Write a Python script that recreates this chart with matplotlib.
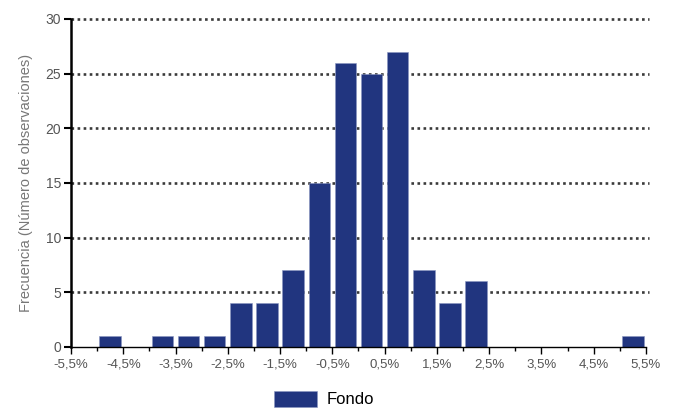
import matplotlib
matplotlib.use("Agg")
import matplotlib.pyplot as plt
import numpy as np
from matplotlib.ticker import FixedLocator

plt.rcParams['font.family'] = ['Liberation Sans', 'DejaVu Sans']

bin_edges = [-5.5, -5.0, -4.5, -4.0, -3.5, -3.0, -2.5, -2.0, -1.5, -1.0, -0.5, 0.0,
             0.5, 1.0, 1.5, 2.0, 2.5, 3.0, 3.5, 4.0, 4.5, 5.0, 5.5]
counts = [0, 1, 0, 1, 1, 1, 4, 4, 7, 15, 26, 25, 27, 7, 4, 6, 0, 0, 0, 0, 0, 1]
tick_values = [-5.5, -4.5, -3.5, -2.5, -1.5, -0.5, 0.5, 1.5, 2.5, 3.5, 4.5, 5.5]
tick_labels = ["-5,5%", "-4,5%", "-3,5%", "-2,5%", "-1,5%", "-0,5%",
               "0,5%", "1,5%", "2,5%", "3,5%", "4,5%", "5,5%"]
y_ticks = [0, 5, 10, 15, 20, 25, 30]
series_name = "Fondo"

fig = plt.figure(figsize=(6.78, 4.09), dpi=100)
ax = fig.add_axes([0.1047, 0.1516, 0.848, 0.802])

edges = np.array(bin_edges)
centers = (edges[:-1] + edges[1:]) / 2
bars = ax.bar(centers, counts, width=0.41, color='#21357f', edgecolor='#8a96c0',
              linewidth=0.4, zorder=3, label=series_name)

ax.set_xlim(-5.5, 5.5)
ax.set_ylim(0, 30)
ax.set_yticks(y_ticks)
ax.set_xticks(tick_values)
ax.set_xticklabels(tick_labels)
ax.xaxis.set_minor_locator(FixedLocator(bin_edges))

for y in y_ticks[1:]:
    ax.plot([-5.5, 5.55], [y, y], linestyle=(0, (1, 1.3)), color='#3a3a3a',
            linewidth=1.9, zorder=1, clip_on=False)

for s in ['top', 'right']:
    ax.spines[s].set_visible(False)
ax.spines['left'].set_linewidth(1.8)
ax.spines['left'].set_color('black')
ax.spines['bottom'].set_linewidth(1.0)
ax.spines['bottom'].set_color('black')
ax.spines['left'].set_zorder(4)
ax.spines['bottom'].set_zorder(4)

ax.tick_params(axis='y', direction='out', length=5, width=1.5, colors='black',
               labelcolor='#555555', labelsize=10, pad=2)
ax.tick_params(axis='x', which='major', direction='out', length=5, width=1.0,
               colors='black', labelcolor='#555555', labelsize=9.5, pad=3)
ax.tick_params(axis='x', which='minor', direction='out', length=3, width=1.0,
               colors='black')

ax.set_ylabel("Frecuencia (Número de observaciones)", color='#777777', fontsize=10.5,
              labelpad=9)

leg = fig.legend(handles=[bars], labels=[series_name], loc='center',
                 bbox_to_anchor=(0.478, 0.0245), frameon=False, fontsize=12,
                 handlelength=2.6, handleheight=1.1, handletextpad=0.6)

fig.savefig("out.png", dpi=100)
